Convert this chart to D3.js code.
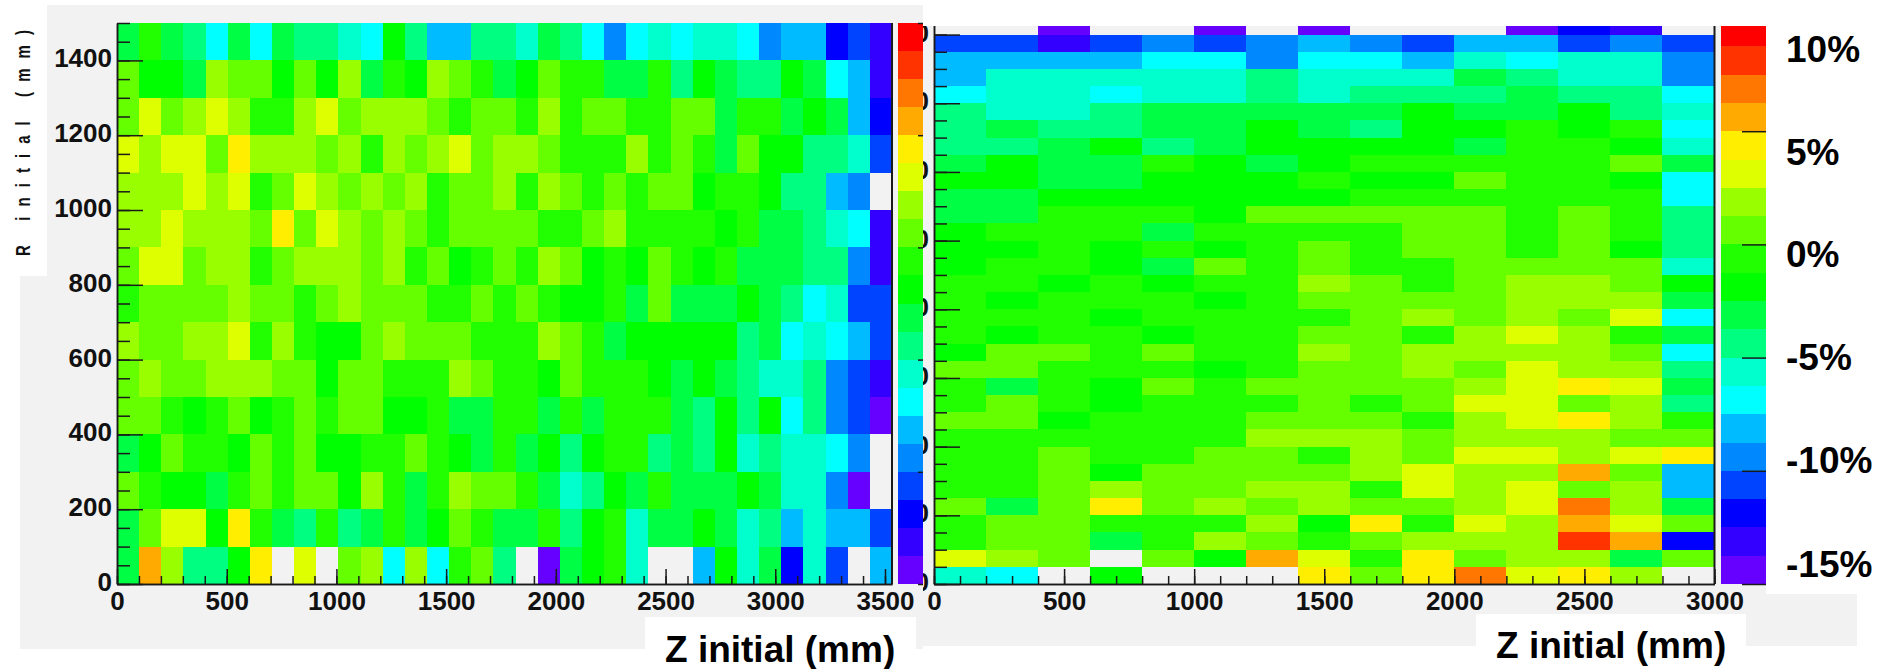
<!DOCTYPE html>
<html>
<head>
<meta charset="utf-8">
<script src="https://cdn.jsdelivr.net/npm/d3@7"></script>
<style>
  body { margin: 0; background: #fff; }
  svg { display: block; font-family: "Liberation Sans", Arial, sans-serif; font-weight: bold; }
  .axis text { font-size: 26px; fill: #111; font-weight: bold; font-family: "Liberation Sans", Arial, sans-serif; }
  .axis line, .axis path { stroke: #1a1a1a; stroke-width: 1.5; }
  .cell, .level { shape-rendering: crispEdges; }
</style>
</head>
<body>
<svg id="chart" width="1890" height="669"></svg>
<script>
const N = null

// palette levels, bottom of the colour bar first
const palette = ["#6600ff","#3300ff","#0000ff","#0044ff","#0088ff","#00bbff","#00ffff","#00ffcc","#00ff80","#00ff44",
  "#00ff00","#22ff00","#66ff00","#99ff00","#ddff00","#ffee00","#ffaa00","#ff7700","#ff3300","#ff0000"]
const percentLabels = ["10%","5%","0%","-5%","-10%","-15%"]
const percentBaselines = [62,165,267,370,473,577]

// left map: percent per bin, R 0-100 first, Z bins left to right
const leftR0 = [-3.1,5.6,1.9,-4.4,-4.4,-1.9,4.4,N,3.1,N,0.6,1.9,-6.9,1.9,-6.9,-0.6,0.6,-4.4,N,-14.4,-3.1,-1.9,-0.6,-5.6,N,N,-8.1,-1.9,-5.6,-3.1,-11.9,-5.6,-10.6,N,-8.1]
const leftR1 = [-3.1,0.6,3.1,3.1,-1.9,4.4,-0.6,-3.1,-4.4,-0.6,-4.4,-3.1,-0.6,-3.1,-1.9,0.6,-0.6,-3.1,-3.1,-0.6,-4.4,-1.9,-0.6,-5.6,-3.1,-3.1,-1.9,-3.1,-5.6,-4.4,-8.1,-5.6,-8.1,-8.1,-10.6]
const leftR2 = [0.6,-0.6,-1.9,-1.9,-3.1,-0.6,0.6,-0.6,0.6,0.6,-1.9,1.9,-0.6,-3.1,-0.6,1.9,0.6,0.6,-0.6,-3.1,-5.6,-4.4,-1.9,-3.1,-0.6,-3.1,-3.1,-3.1,-1.9,-3.1,-5.6,-5.6,-9.4,-14.4,N]
const leftR3 = [-3.1,-1.9,0.6,-0.6,-0.6,-1.9,0.6,-0.6,0.6,-1.9,-1.9,-0.6,-0.6,0.6,-0.6,-1.9,-3.1,-0.6,-3.1,-1.9,-4.4,-1.9,-0.6,-0.6,-4.4,-3.1,-4.4,-1.9,-5.6,-4.4,-5.6,-5.6,-6.9,-9.4,N]
const leftR4 = [0.6,0.6,-0.6,-1.9,-0.6,0.6,-1.9,-0.6,0.6,-0.6,0.6,0.6,-1.9,-1.9,-0.6,-3.1,-3.1,-0.6,-0.6,-3.1,-0.6,-3.1,-0.6,-0.6,-0.6,-3.1,-4.4,-1.9,-4.4,-1.9,-6.9,-4.4,-9.4,-10.6,-14.4]
const leftR5 = [0.6,1.9,0.6,0.6,1.9,1.9,1.9,0.6,0.6,-1.9,0.6,0.6,-0.6,-0.6,-0.6,1.9,0.6,-0.6,-0.6,-1.9,0.6,-0.6,-0.6,-0.6,-1.9,-3.1,-1.9,-3.1,-4.4,-5.6,-5.6,-4.4,-9.4,-10.6,-13.1]
const leftR6 = [1.9,0.6,0.6,1.9,1.9,3.1,-0.6,1.9,-0.6,-1.9,-1.9,0.6,1.9,0.6,0.6,0.6,-0.6,-0.6,-0.6,1.9,0.6,-0.6,-3.1,-1.9,-1.9,-1.9,-1.9,-1.9,-4.4,-3.1,-6.9,-5.6,-6.9,-8.1,-10.6]
const leftR7 = [-0.6,0.6,0.6,0.6,0.6,1.9,0.6,0.6,-0.6,0.6,1.9,0.6,0.6,0.6,-0.6,-0.6,0.6,-0.6,0.6,-0.6,-1.9,-1.9,-0.6,-3.1,0.6,-3.1,-3.1,-3.1,-1.9,-3.1,-4.4,-6.9,-5.6,-10.6,-10.6]
const leftR8 = [0.6,3.1,3.1,0.6,1.9,1.9,-0.6,0.6,1.9,1.9,1.9,0.6,1.9,-0.6,0.6,-1.9,-0.6,0.6,-0.6,1.9,0.6,-1.9,-0.6,-1.9,0.6,-0.6,-1.9,-0.6,-3.1,-3.1,-3.1,-4.4,-4.4,-9.4,-13.1]
const leftR9 = [1.9,1.9,3.1,1.9,1.9,1.9,0.6,4.4,0.6,3.1,1.9,0.6,1.9,0.6,-0.6,0.6,0.6,0.6,0.6,-0.6,-0.6,0.6,1.9,-0.6,-0.6,-0.6,-0.6,-1.9,-0.6,-3.1,-3.1,-4.4,-5.6,-6.9,-13.1]
const leftR10 = [1.9,1.9,1.9,3.1,1.9,3.1,-0.6,0.6,3.1,1.9,0.6,1.9,0.6,1.9,-0.6,0.6,0.6,1.9,-0.6,1.9,0.6,-0.6,0.6,-0.6,0.6,0.6,-1.9,-0.6,-0.6,-1.9,-4.4,-4.4,-8.1,-9.4,N]
const leftR11 = [3.1,1.9,3.1,3.1,0.6,4.4,1.9,1.9,1.9,0.6,1.9,-0.6,1.9,0.6,1.9,3.1,0.6,1.9,1.9,0.6,-0.6,-0.6,-0.6,1.9,-0.6,0.6,-0.6,-3.1,0.6,-1.9,-1.9,-4.4,-4.4,-5.6,-10.6]
const leftR12 = [0.6,3.1,0.6,1.9,3.1,1.9,-0.6,-0.6,1.9,3.1,0.6,1.9,1.9,1.9,0.6,-0.6,0.6,0.6,-0.6,1.9,-0.6,0.6,0.6,-0.6,-0.6,0.6,0.6,-3.1,-0.6,-0.6,-3.1,-1.9,-3.1,-8.1,-11.9]
const leftR13 = [0.6,-1.9,-1.9,-3.1,1.9,0.6,0.6,-1.9,0.6,-1.9,1.9,-3.1,-0.6,-1.9,1.9,0.6,-0.6,-3.1,-1.9,0.6,-0.6,-0.6,-3.1,-3.1,-0.6,-4.4,-1.9,-3.1,-4.4,-4.4,-1.9,-3.1,-6.9,-8.1,-13.1]
const leftR14 = [-3.1,-0.6,-3.1,-4.4,-6.9,-3.1,-6.9,-3.1,-4.4,-4.4,-5.6,-6.9,-1.9,-4.4,-8.1,-8.1,-4.4,-4.4,-5.6,-3.1,-4.4,-6.9,-9.4,-6.9,-5.6,-6.9,-5.6,-5.6,-6.9,-9.4,-8.1,-8.1,-11.9,-10.6,-13.1]
const leftRows = [leftR0,leftR1,leftR2,leftR3,leftR4,leftR5,leftR6,leftR7,leftR8,leftR9,leftR10,leftR11,leftR12,leftR13,leftR14]

// right map: same idea, finer R bins
const rightR0 = [-5.6,-6.9,N,-1.9,N,N,N,4.4,0.6,4.4,6.9,3.1,4.4,1.9,N]
const rightR1 = [3.1,1.9,0.6,N,0.6,-1.9,5.6,3.1,-0.6,4.4,0.6,1.9,1.9,-3.1,0.6]
const rightR2 = [-0.6,0.6,0.6,-3.1,-0.6,1.9,0.6,-0.6,0.6,1.9,1.9,1.9,8.1,5.6,-11.9]
const rightR3 = [-0.6,0.6,0.6,-0.6,-0.6,-0.6,1.9,-1.9,4.4,-0.6,3.1,1.9,5.6,3.1,0.6]
const rightR4 = [0.6,-3.1,0.6,4.4,0.6,1.9,0.6,1.9,0.6,0.6,1.9,3.1,6.9,1.9,-3.1]
const rightR5 = [-0.6,-0.6,0.6,1.9,0.6,0.6,1.9,1.9,-0.6,3.1,1.9,3.1,0.6,1.9,-8.1]
const rightR6 = [-0.6,-0.6,0.6,-1.9,0.6,0.6,0.6,0.6,1.9,3.1,1.9,1.9,5.6,0.6,-8.1]
const rightR7 = [-0.6,-0.6,0.6,-0.6,-0.6,0.6,0.6,-0.6,1.9,0.6,3.1,3.1,1.9,3.1,4.4]
const rightR8 = [-0.6,-0.6,-0.6,-0.6,-0.6,-0.6,1.9,1.9,1.9,0.6,1.9,1.9,1.9,0.6,0.6]
const rightR9 = [0.6,0.6,-1.9,-0.6,-0.6,-0.6,0.6,0.6,0.6,-0.6,1.9,3.1,4.4,1.9,-0.6]
const rightR10 = [-0.6,0.6,-0.6,-1.9,-0.6,-0.6,-0.6,0.6,-0.6,0.6,3.1,3.1,0.6,1.9,-4.4]
const rightR11 = [-0.6,-3.1,-0.6,-1.9,0.6,-0.6,0.6,0.6,0.6,0.6,1.9,3.1,4.4,3.1,-3.1]
const rightR12 = [0.6,0.6,-0.6,-0.6,-0.6,-1.9,-0.6,0.6,0.6,1.9,0.6,3.1,1.9,1.9,-4.4]
const rightR13 = [-1.9,0.6,0.6,-0.6,0.6,-0.6,-0.6,1.9,0.6,1.9,1.9,1.9,1.9,0.6,-6.9]
const rightR14 = [-0.6,-1.9,-0.6,-0.6,-1.9,-0.6,-0.6,0.6,0.6,-0.6,1.9,3.1,1.9,-0.6,-3.1]
const rightR15 = [-0.6,-0.6,-0.6,-1.9,-0.6,-0.6,-0.6,-0.6,0.6,1.9,0.6,1.9,0.6,3.1,-6.9]
const rightR16 = [-0.6,-1.9,-0.6,-0.6,-0.6,-1.9,-0.6,0.6,0.6,0.6,0.6,1.9,1.9,1.9,-3.1]
const rightR17 = [-0.6,-0.6,-1.9,-0.6,-1.9,-0.6,-0.6,1.9,0.6,-0.6,0.6,1.9,1.9,0.6,-1.9]
const rightR18 = [-1.9,-0.6,-0.6,-1.9,-3.1,0.6,-0.6,0.6,-0.6,-0.6,0.6,0.6,0.6,0.6,-5.6]
const rightR19 = [-1.9,-1.9,-0.6,-1.9,-0.6,-1.9,-0.6,0.6,-0.6,0.6,0.6,-0.6,0.6,-1.9,-4.4]
const rightR20 = [-1.9,-0.6,-0.6,-0.6,-3.1,-0.6,-0.6,-0.6,-0.6,0.6,0.6,-0.6,0.6,-0.6,-4.4]
const rightR21 = [-3.1,-3.1,-0.6,-0.6,-0.6,-1.9,0.6,0.6,0.6,0.6,0.6,-0.6,0.6,-0.6,-4.4]
const rightR22 = [-3.1,-3.1,-1.9,-1.9,-1.9,-1.9,-1.9,-1.9,-0.6,-0.6,-0.6,-0.6,-0.6,-0.6,-6.9]
const rightR23 = [-1.9,-1.9,-3.1,-3.1,-1.9,-1.9,-1.9,-0.6,-1.9,-1.9,0.6,-0.6,-0.6,-1.9,-6.9]
const rightR24 = [-3.1,-1.9,-3.1,-3.1,-0.6,-1.9,-3.1,-1.9,-0.6,-0.6,-0.6,-0.6,-0.6,0.6,-3.1]
const rightR25 = [-4.4,-4.4,-3.1,-1.9,-4.4,-3.1,-1.9,-1.9,-1.9,-1.9,-3.1,-0.6,-0.6,-1.9,-5.6]
const rightR26 = [-4.4,-3.1,-4.4,-4.4,-3.1,-3.1,-1.9,-3.1,-4.4,-1.9,-1.9,-0.6,-1.9,-0.6,-6.9]
const rightR27 = [-4.4,-5.6,-5.6,-4.4,-3.1,-3.1,-3.1,-3.1,-3.1,-1.9,-3.1,-3.1,-1.9,-4.4,-5.6]
const rightR28 = [-6.9,-5.6,-5.6,-6.9,-5.6,-5.6,-4.4,-5.6,-4.4,-4.4,-4.4,-3.1,-4.4,-4.4,-6.9]
const rightR29 = [-8.1,-5.6,-5.6,-5.6,-5.6,-5.6,-4.4,-5.6,-5.6,-5.6,-3.1,-4.4,-5.6,-5.6,-9.4]
const rightR30 = [-8.1,-8.1,-8.1,-8.1,-6.9,-6.9,-9.4,-6.9,-6.9,-8.1,-5.6,-6.9,-5.6,-5.6,-9.4]
const rightR31 = [-10.6,-10.6,-13.1,-10.6,-9.4,-10.6,-9.4,-8.1,-9.4,-10.6,-8.1,-8.1,-10.6,-9.4,-10.6]
const rightR32 = [N,N,-14.4,N,N,-14.4,N,-14.4,N,N,N,-14.4,-11.9,-13.1,N]
const rightRows = [rightR0,rightR1,rightR2,rightR3,rightR4,rightR5,rightR6,rightR7,rightR8,rightR9,rightR10,rightR11,rightR12,rightR13,rightR14,rightR15,rightR16,rightR17,rightR18,rightR19,rightR20,rightR21,rightR22,rightR23,rightR24,rightR25,rightR26,rightR27,rightR28,rightR29,rightR30,rightR31,rightR32]

const svg = d3.select("#chart")
const grey = "#f2f2f2"

const color = d3.scaleQuantize().domain([-15, 10]).range(palette)

function box(x, y, w, h, fill) {
  svg.append("rect").attr("x", x).attr("y", y).attr("width", w).attr("height", h).attr("fill", fill)
}

function drawCells(rows, x, y, binZ, binR) {
  const g = svg.append("g")
  rows.forEach((row, r) => {
    row.forEach((v, c) => {
      if (v === null) return
      g.append("rect")
      .attr("class", "cell")
      .attr("x", x(c * binZ))
      .attr("y", y((r + 1) * binR))
      .attr("width", x((c + 1) * binZ) - x(c * binZ))
      .attr("height", y(r * binR) - y((r + 1) * binR))
      .attr("fill", color(v))
    })
  })
}

function drawAxes(x, y, zMajor, rMajor, rMinor) {
  const bottom = y.range()[0]
  const left = x.range()[0]

  svg.append("g").attr("class", "axis").attr("transform", `translate(0,${bottom})`)
  .call(d3.axisBottom(x).tickValues(d3.range(0, zMajor + 1, 100)).tickSize(-8).tickSizeOuter(0).tickFormat(""))

  svg.append("g").attr("class", "axis").attr("transform", `translate(0,${bottom})`)
  .call(d3.axisBottom(x).tickValues(d3.range(0, zMajor + 1, 500)).tickSize(-15).tickSizeOuter(0).tickPadding(7.5).tickFormat(d3.format("d")))

  svg.append("g").attr("class", "axis").attr("transform", `translate(${left},0)`)
  .call(d3.axisLeft(y).tickValues(d3.range(0, rMinor + 1, 50)).tickSize(-13).tickSizeOuter(0).tickFormat(""))

  svg.append("g").attr("class", "axis").attr("transform", `translate(${left},0)`)
  .call(d3.axisLeft(y).tickValues(d3.range(0, rMajor + 1, 200)).tickSize(-26).tickSizeOuter(0).tickPadding(5).tickFormat(d3.format("d")))
  .selectAll("text").attr("dy", "0.25em")

  // right frame line
  svg.append("line")
  .attr("x1", x.range()[1]).attr("x2", x.range()[1])
  .attr("y1", y.range()[1]).attr("y2", bottom)
  .attr("stroke", "#1a1a1a").attr("stroke-width", 2)
}

function drawBar(x0, x1, scale, tickLen) {
  palette.forEach(c => {
    const [lo, hi] = color.invertExtent(c)
    svg.append("rect")
    .attr("class", "level")
    .attr("x", x0)
    .attr("y", scale(hi))
    .attr("width", x1 - x0)
    .attr("height", scale(lo) - scale(hi))
    .attr("fill", c)
  })
  svg.append("g").attr("class", "axis barAxis").attr("transform", `translate(${x1},0)`)
  .call(d3.axisRight(scale).tickValues([-15, -10, -5, 0, 5, 10]).tickSize(-tickLen).tickSizeOuter(0).tickFormat(""))
  .call(g => g.select(".domain").remove())
}

// right panel goes first, the left one was pasted over its axis labels
box(923, 26, 843, 620, grey)
box(1766, 594, 91, 52, grey)

const rightX = d3.scaleLinear().domain([0, 3000]).range([934, 1714.5])
const rightY = d3.scaleLinear().domain([0, 1650]).range([584, 17.4])
drawCells(rightRows, rightX, rightY, 200, 50)
drawAxes(rightX, rightY, 3000, 1600, 1650)

const rightBar = d3.scaleLinear().domain([-15, 10]).range([584, 18])
drawBar(1721, 1766, rightBar, 24)

box(923, 0, 967, 26, "#fff")
box(1766, 0, 124, 594, "#fff")
box(1476, 614, 270, 55, "#fff")

svg.selectAll(".percent")
.data(percentLabels)
.join("text")
.attr("class", "percent")
.attr("x", 1786)
.attr("y", (d, i) => percentBaselines[i])
.attr("font-size", 37)
.attr("fill", "#000")
.text(d => d)

svg.append("text").attr("x", 1496).attr("y", 658).attr("font-size", 37).attr("fill", "#000").text("Z initial (mm)")

// left panel
box(47, 5, 876, 644, grey)
box(20, 276, 27, 373, grey)

const leftX = d3.scaleLinear().domain([0, 3532]).range([117, 892])
const leftY = d3.scaleLinear().domain([0, 1500]).range([584, 23])
drawCells(leftRows, leftX, leftY, 3532 / 35, 100)
drawAxes(leftX, leftY, 3500, 1400, 1500)

const leftBar = d3.scaleLinear().domain([-15, 10]).range([584, 23])
drawBar(898, 923, leftBar, 5)

box(645, 617, 271, 52, "#fff")
svg.append("text").attr("x", 665).attr("y", 662).attr("font-size", 37).attr("fill", "#000").text("Z initial (mm)")

svg.append("text")
.attr("transform", "translate(30,256) rotate(-90) scale(1,1.35)")
.attr("font-size", 15)
.attr("textLength", 226)
.attr("lengthAdjust", "spacing")
.attr("fill", "#111")
.text("R initial (mm)")
</script>
</body>
</html>
